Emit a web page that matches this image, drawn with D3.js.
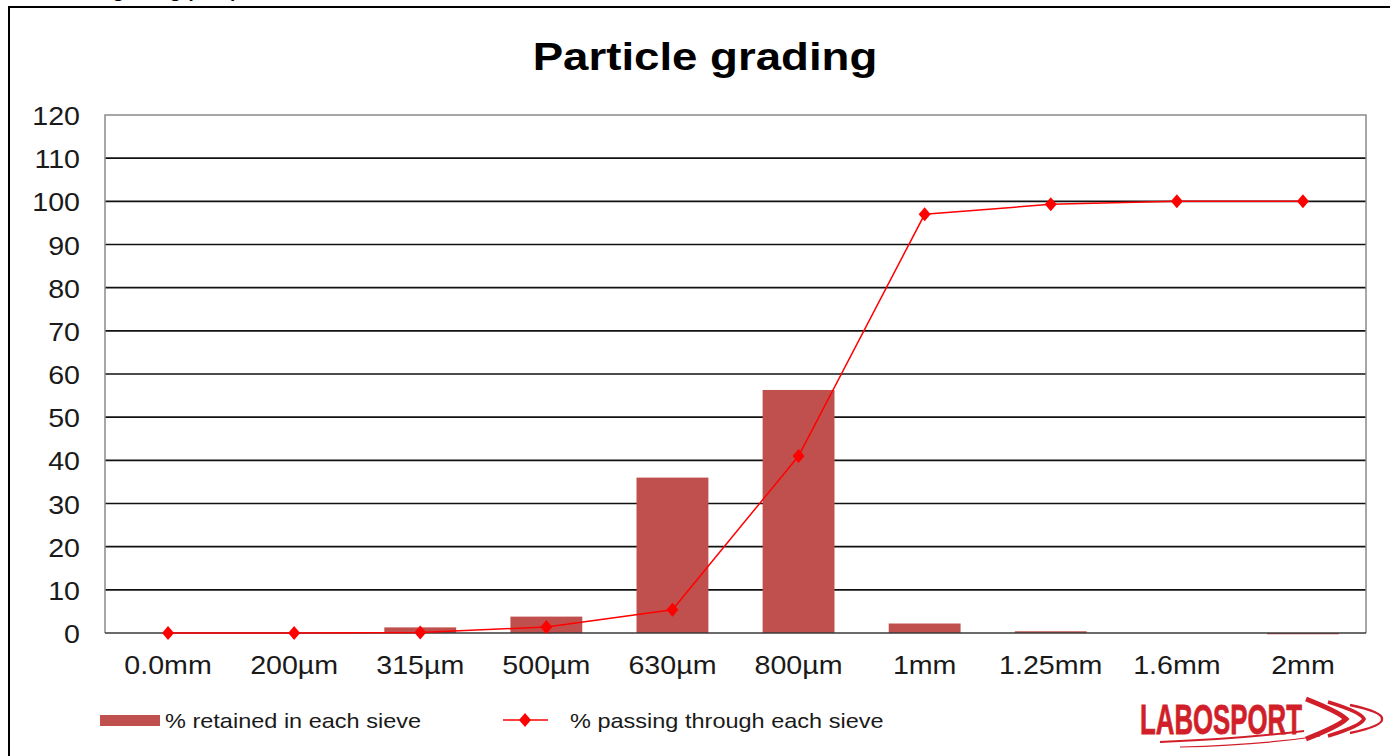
<!DOCTYPE html>
<html>
<head>
<meta charset="utf-8">
<script src="https://cdn.jsdelivr.net/npm/d3@7"></script>
<style>
  body { margin: 0; background: #fff; }
  svg { display: block; font-family: "Liberation Sans", Arial, sans-serif; }
</style>
</head>
<body>
<svg id="chart" width="1390" height="756"></svg>
<script>
// Chart data
const categories = ['0.0mm', '200µm', '315µm', '500µm', '630µm', '800µm', '1mm', '1.25mm', '1.6mm', '2mm'];
const retained = [0, 0, 1.3, 3.8, 36, 56.3, 2.2, 0.4, 0, -0.3];
const passing = [0, 0, 0.1, 1.4, 5.4, 41, 97, 99.3, 100, 100];
const yTicks = [0, 10, 20, 30, 40, 50, 60, 70, 80, 90, 100, 110, 120];
const seriesNames = ['% retained in each sieve', '% passing through each sieve'];

const barColor = '#c0504d';
const lineColor = '#ff0000';
const logoColor = '#d11f2a';

const svg = d3.select('#chart');

// Text is slightly wider than plain Arial in the picture
function stretchText(g, x, y, sx, str, size, anchor, weight, fill) {
    return g.append('text')
        .attr('transform', `translate(${x},${y}) scale(${sx},1)`)
        .attr('text-anchor', anchor)
        .style('font-size', size + 'px')
        .style('font-weight', weight || 'normal')
        .style('fill', fill || '#1a1a1a')
        .text(str);
}

// heading cut off by the top edge of the picture
stretchText(svg, 40, -2, 1.1, 'Particle grading (infill)', 17, 'start', 'bold', '#000');

// outer chart frame
svg.append('rect')
    .attr('x', 9).attr('y', 7)
    .attr('width', 1400).attr('height', 760)
    .style('fill', 'none')
    .style('stroke', '#000')
    .style('stroke-width', 2);

// title
stretchText(svg, 705, 70, 1.2, 'Particle grading', 38, 'middle', 'bold', '#000');

const plot = { left: 105, right: 1366, top: 115, bottom: 633 };

const x = d3.scaleBand()
    .domain(categories)
    .range([plot.left, plot.right])
    .padding(0);

const y = d3.scaleLinear()
    .domain([0, 120])
    .range([plot.bottom, plot.top]);

// gridlines
svg.append('g')
    .selectAll('line')
    .data(yTicks.filter(t => t > 0 && t < 120))
    .enter()
    .append('line')
    .attr('x1', plot.left)
    .attr('x2', plot.right)
    .attr('y1', d => y(d))
    .attr('y2', d => y(d))
    .style('stroke', '#111')
    .style('stroke-width', 1.6);

// plot border (left, top, right)
svg.append('path')
    .attr('d', `M${plot.left},${plot.bottom}V${plot.top}H${plot.right}V${plot.bottom}`)
    .style('fill', 'none')
    .style('stroke', '#8a8a8a')
    .style('stroke-width', 1.5);

// y tick labels
const yLabels = svg.append('g');
yTicks.forEach(t => {
    stretchText(yLabels, 80, y(t) + 10, 1.1, t, 26, 'end');
});

// bars
const barW = x.bandwidth() * 0.57;
svg.append('g')
    .selectAll('rect')
    .data(retained)
    .enter()
    .append('rect')
    .attr('x', (d, i) => x(categories[i]) + (x.bandwidth() - barW) / 2)
    .attr('y', d => y(Math.max(d, 0)))
    .attr('width', barW)
    .attr('height', d => Math.abs(y(d) - y(0)))
    .style('fill', barColor);

// x axis line
svg.append('line')
    .attr('x1', plot.left).attr('x2', plot.right)
    .attr('y1', y(0)).attr('y2', y(0))
    .style('stroke', '#3a3a3a')
    .style('stroke-width', 1.6);

// x tick labels
const xLabels = svg.append('g');
categories.forEach(c => {
    stretchText(xLabels, x(c) + x.bandwidth() / 2, 674, 1.1, c, 26, 'middle');
});

// passing line
const line = d3.line()
    .x((d, i) => x(categories[i]) + x.bandwidth() / 2)
    .y(d => y(d));

svg.append('path')
    .datum(passing)
    .attr('d', line)
    .style('fill', 'none')
    .style('stroke', lineColor)
    .style('stroke-width', 1.5);

const diamond = 'M0,-7L6,0L0,7L-6,0Z';
svg.append('g')
    .selectAll('path')
    .data(passing)
    .enter()
    .append('path')
    .attr('transform', (d, i) => `translate(${x(categories[i]) + x.bandwidth() / 2},${y(d)})`)
    .attr('d', diamond)
    .style('fill', lineColor);

// legend
const legend = svg.append('g');
legend.append('rect')
    .attr('x', 100).attr('y', 715)
    .attr('width', 60).attr('height', 11)
    .style('fill', barColor);
stretchText(legend, 165, 728, 1.12, seriesNames[0], 21, 'start');

legend.append('line')
    .attr('x1', 503).attr('x2', 548)
    .attr('y1', 720).attr('y2', 720)
    .style('stroke', lineColor)
    .style('stroke-width', 1.5);
legend.append('path')
    .attr('transform', 'translate(525,720)')
    .attr('d', diamond)
    .style('fill', lineColor);
stretchText(legend, 570, 728, 1.12, seriesNames[1], 21, 'start');

// LABOSPORT logo
const logo = svg.append('g');
const logoText = logo.append('text')
    .style('font-family', '"Liberation Sans Narrow", "Liberation Sans", Arial, sans-serif')
    .style('font-size', '42px')
    .style('font-weight', 'bold')
    .style('fill', logoColor)
    .style('stroke', logoColor)
    .style('stroke-width', 0.8)
    .text('LABOSPORT');
// squeeze the word to its width in the picture
const logoLen = logoText.node().getComputedTextLength();
logoText.attr('transform', `translate(1140,734) scale(${162 / logoLen},1)`);

// swoosh chevrons
[0, 1, 2].forEach(k => {
    const sx = 1306 + k * 22;
    logo.append('path')
        .attr('d', `M${sx},${699 + k * 3}Q${sx + 33},${712} ${sx + 40 - k * 4},${719}Q${sx + 33},${726} ${sx},${739 - k * 3}`)
        .style('fill', 'none')
        .style('stroke', logoColor)
        .style('stroke-width', 5 - k * 1.3);
});
logo.append('path')
    .attr('d', 'M1160,742Q1240,739 1304,731')
    .style('fill', 'none')
    .style('stroke', logoColor)
    .style('stroke-width', 2);
logo.append('path')
    .attr('d', 'M1180,747Q1260,745 1320,736')
    .style('fill', 'none')
    .style('stroke', logoColor)
    .style('stroke-width', 1.2);
</script>
</body>
</html>
